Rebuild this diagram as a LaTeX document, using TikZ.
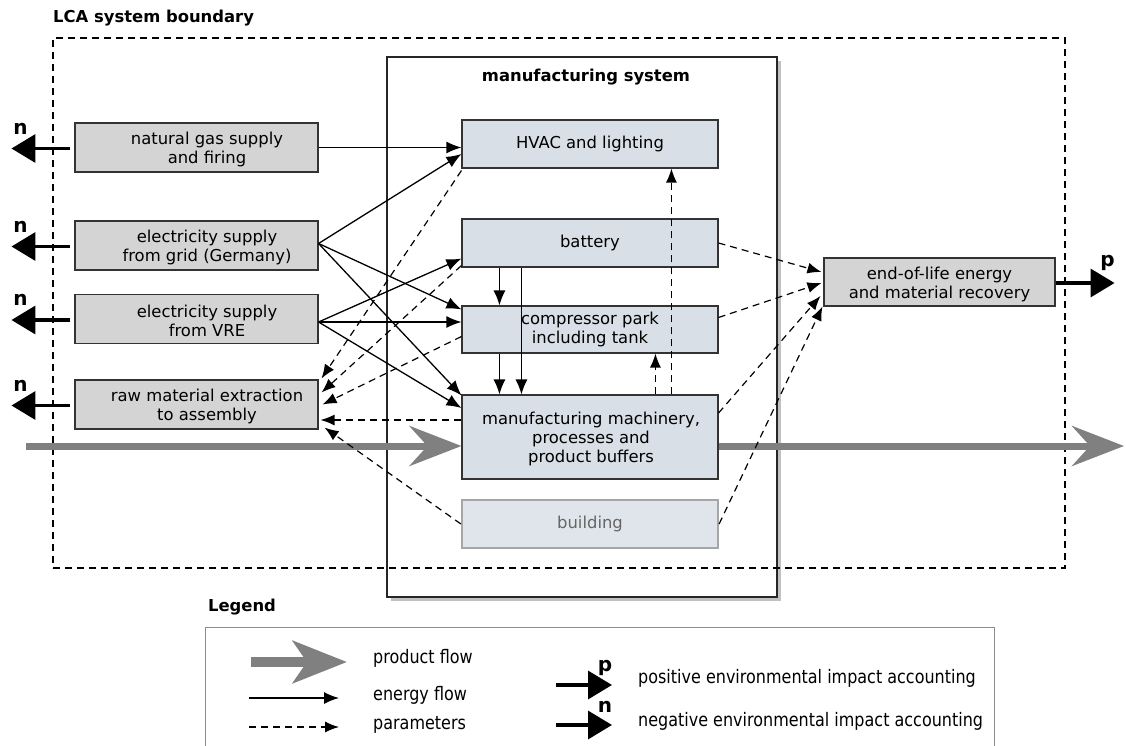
\documentclass[tikz,border=0pt]{standalone}
\usepackage{fontspec}
\setmainfont{DejaVu Sans}
\newfontfamily\legfont[FakeStretch=0.86]{DejaVu Sans}
\usetikzlibrary{arrows.meta,shadows,calc}
\definecolor{lfill}{RGB}{212,212,212}
\definecolor{ibfill}{RGB}{216,223,230}
\definecolor{bfill}{RGB}{224,229,235}
\definecolor{prodgray}{RGB}{128,128,128}
\newcommand{\mainsz}{\fontsize{16.4}{19}\selectfont}
\newcommand{\legsz}{\legfont\fontsize{18.6}{20}\selectfont}
\tikzset{
 lbox/.style={draw=black!80, fill=lfill, line width=1.1pt, minimum width=243pt, minimum height=49pt, inner sep=0pt},
 ibox/.style={draw=black!80, fill=ibfill, line width=1.1pt, minimum width=256pt, minimum height=48pt, inner sep=0pt, align=center, font=\mainsz},
 txt/.style={font=\mainsz, align=center, inner sep=0pt, yshift=-2pt},
 ttl/.style={font=\bfseries\fontsize{16.4}{19}\selectfont, inner sep=0pt},
 impl/.style={font=\bfseries\fontsize{20}{21}\selectfont, inner sep=0pt},
 energy/.style={-{Latex[length=15pt,width=12pt]}, line width=1.3pt},
 param/.style={-{Latex[length=14pt,width=11pt]}, line width=1.2pt, dash pattern=on 7pt off 5pt},
 nimp/.style={-{Triangle[length=24pt,width=28pt]}, line width=3.5pt},
 prod/.style={draw=prodgray, line width=7pt, -{Stealth[length=52pt,width=40pt,inset=18pt]}},
 legprod/.style={draw=prodgray, line width=10pt, -{Stealth[length=54pt,width=42pt,inset=14pt]}},
 legtxt/.style={font=\legsz, anchor=west, inner sep=0pt},
}
\begin{document}
\begin{tikzpicture}[x=1pt,y=-1pt]
\useasboundingbox (0,0) rectangle (1126,746);
% manufacturing system
\node[draw=black!85, fill=white, line width=1.2pt, minimum width=390pt, minimum height=540pt, inner sep=0pt,
  drop shadow={shadow xshift=4pt, shadow yshift=-4pt, opacity=0.35, fill=black!70}] (mfg) at (582,327) {};
\node[ttl] (mfgt) at (586,77) {manufacturing system};
% LCA boundary
\node[draw=black, line width=1.1pt, dash pattern=on 7pt off 5pt, minimum width=1012pt, minimum height=530pt, inner sep=0pt] (lca) at (559,303) {};
\node[ttl, anchor=west] (lcat) at (53,18) {LCA system boundary};
% left boxes
\node[lbox] (gas) at (196.5,147.5) {};
\node[txt] (gast) at (207,147.5) {natural gas supply\\and firing};
\node[lbox] (grid) at (196.5,245.5) {};
\node[txt] (gridt) at (207,245.5) {electricity supply\\from grid (Germany)};
\node[lbox] (vre) at (196.5,319) {};
\node[txt] (vret) at (207,319) {electricity supply\\from VRE};
\node[lbox] (raw) at (196.5,404.5) {};
\node[txt] (rawt) at (207,404.5) {raw material extraction\\to assembly};
% inner boxes
\node[ibox] (hvac) at (590,144) {HVAC and lighting};
\node[ibox] (battery) at (590,243) {battery};
\node[ibox, minimum height=47pt] (comp) at (590,329.5) {compressor park\\including tank};
\node[ibox, minimum height=84pt] (mach) at (590,437) {};
\node[txt] (macht) at (591,437) {manufacturing machinery,\\processes and\\product buffers};
\node[draw=black!35, fill=bfill, line width=2.2pt, minimum width=256pt, minimum height=48pt, inner sep=0pt, font=\mainsz, text=black!60] (building) at (590,524) {building};
% end-of-life
\node[lbox, minimum width=231pt, minimum height=48pt] (eol) at (939.5,282) {};
\node[txt] (eolt) at (939.5,282) {end-of-life energy\\and material recovery};
% product flow
\coordinate (pin) at (26,446);
\coordinate (pout) at (1124,446);
\draw[prod] (pin) -- ($(mach.west)+(0,9)$);
\draw[prod] ($(mach.east)+(0,9)$) -- (pout);
% energy flows
\coordinate (go) at ($(grid.east)+(0,-2)$);
\coordinate (vo) at ($(vre.east)+(0,3)$);
\draw[energy] (gas.east) -- (gas.east -| hvac.west);
\draw[energy] (go) -- ($(hvac.west)+(0,10)$);
\draw[energy] (go) -- ($(comp.north west)+(0,4)$);
\draw[energy] (go) -- ($(mach.north west)+(0,1)$);
\draw[energy] (vo) -- ($(battery.south west)+(0,-9)$);
\draw[energy] (vo) -- (vo -| comp.west);
\draw[energy] (vo) -- ($(mach.west)+(0,-29)$);
\draw[energy] ($(battery.south west)+(38,0)$) -- ($(comp.north west)+(38,0)$);
\draw[energy] ($(battery.south west)+(60,0)$) -- ($(mach.north west)+(60,0)$);
\draw[energy] ($(comp.south west)+(38,0)$) -- ($(mach.north west)+(38,0)$);
% parameters
\draw[param] ($(mach.north west)+(194,0)$) -- ($(comp.south west)+(194,0)$);
\draw[param] ($(mach.north west)+(210,0)$) -- ($(hvac.south west)+(210,0)$);
\draw[param] ($(hvac.south west)+(0,2)$) -- ($(raw.north east)+(3,-1)$);
\draw[param] ($(battery.south west)+(0,-2)$) -- ($(raw.east)+(3,-12)$);
\draw[param] ($(comp.west)+(0,7)$) -- ($(raw.east)+(4,0)$);
\draw[param] ($(mach.west)+(0,-17)$) -- ($(raw.east)+(2,15.5)$);
\draw[param] (building.west) -- ($(raw.south east)+(6,-2)$);
\draw[param] (battery.east) -- ($(eol.west)+(-2,-10)$);
\draw[param] ($(comp.east)+(0,-12)$) -- ($(eol.west)+(-2,1)$);
\draw[param] ($(mach.east)+(0,-24)$) -- ($(eol.west)+(-3,14)$);
\draw[param] (building.east) -- ($(eol.south west)+(-1,0)$);
% environmental impact arrows
\foreach \b in {gas,grid,vre,raw}{
  \draw[nimp] ($(\b.west)+(-4,1)$) -- ++(-59,0) coordinate (\b n);
  \node[impl] (\b nl) at ($(\b n)+(9,-20)$) {n};
}
\draw[nimp] ($(eol.east)+(0,1)$) -- ++(59,0) coordinate (eolp);
\node[impl] (eolpl) at ($(eolp)+(-7,-20)$) {p};
% legend
\node[ttl] (legt) at (242,607) {Legend};
\draw[black!45, line width=1pt] (205,760) -- (205,627) -- (994,627) -- (994,760);
\coordinate (l1a) at (251,662); \coordinate (l1b) at (347,662);
\draw[legprod] (l1a) -- (l1b);
\node[legtxt] (l1t) at (373,658) {product flow};
\coordinate (l2a) at (249,698); \coordinate (l2b) at (339,698);
\draw[energy] (l2a) -- (l2b);
\node[legtxt] (l2t) at (373,695) {energy flow};
\coordinate (l3a) at (249,727); \coordinate (l3b) at (339,727);
\draw[param] (l3a) -- (l3b);
\node[legtxt] (l3t) at (373,725) {parameters};
\coordinate (l4a) at (556,685); \coordinate (l4b) at (612,685);
\draw[nimp] (l4a) -- (l4b);
\node[impl] (l4l) at (605,668) {p};
\node[legtxt] (l4t) at (638,678) {positive environmental impact accounting};
\coordinate (l5a) at (556,725); \coordinate (l5b) at (612,725);
\draw[nimp] (l5a) -- (l5b);
\node[impl] (l5l) at (605,707) {n};
\node[legtxt] (l5t) at (638,721) {negative environmental impact accounting};
\end{tikzpicture}
\end{document}
